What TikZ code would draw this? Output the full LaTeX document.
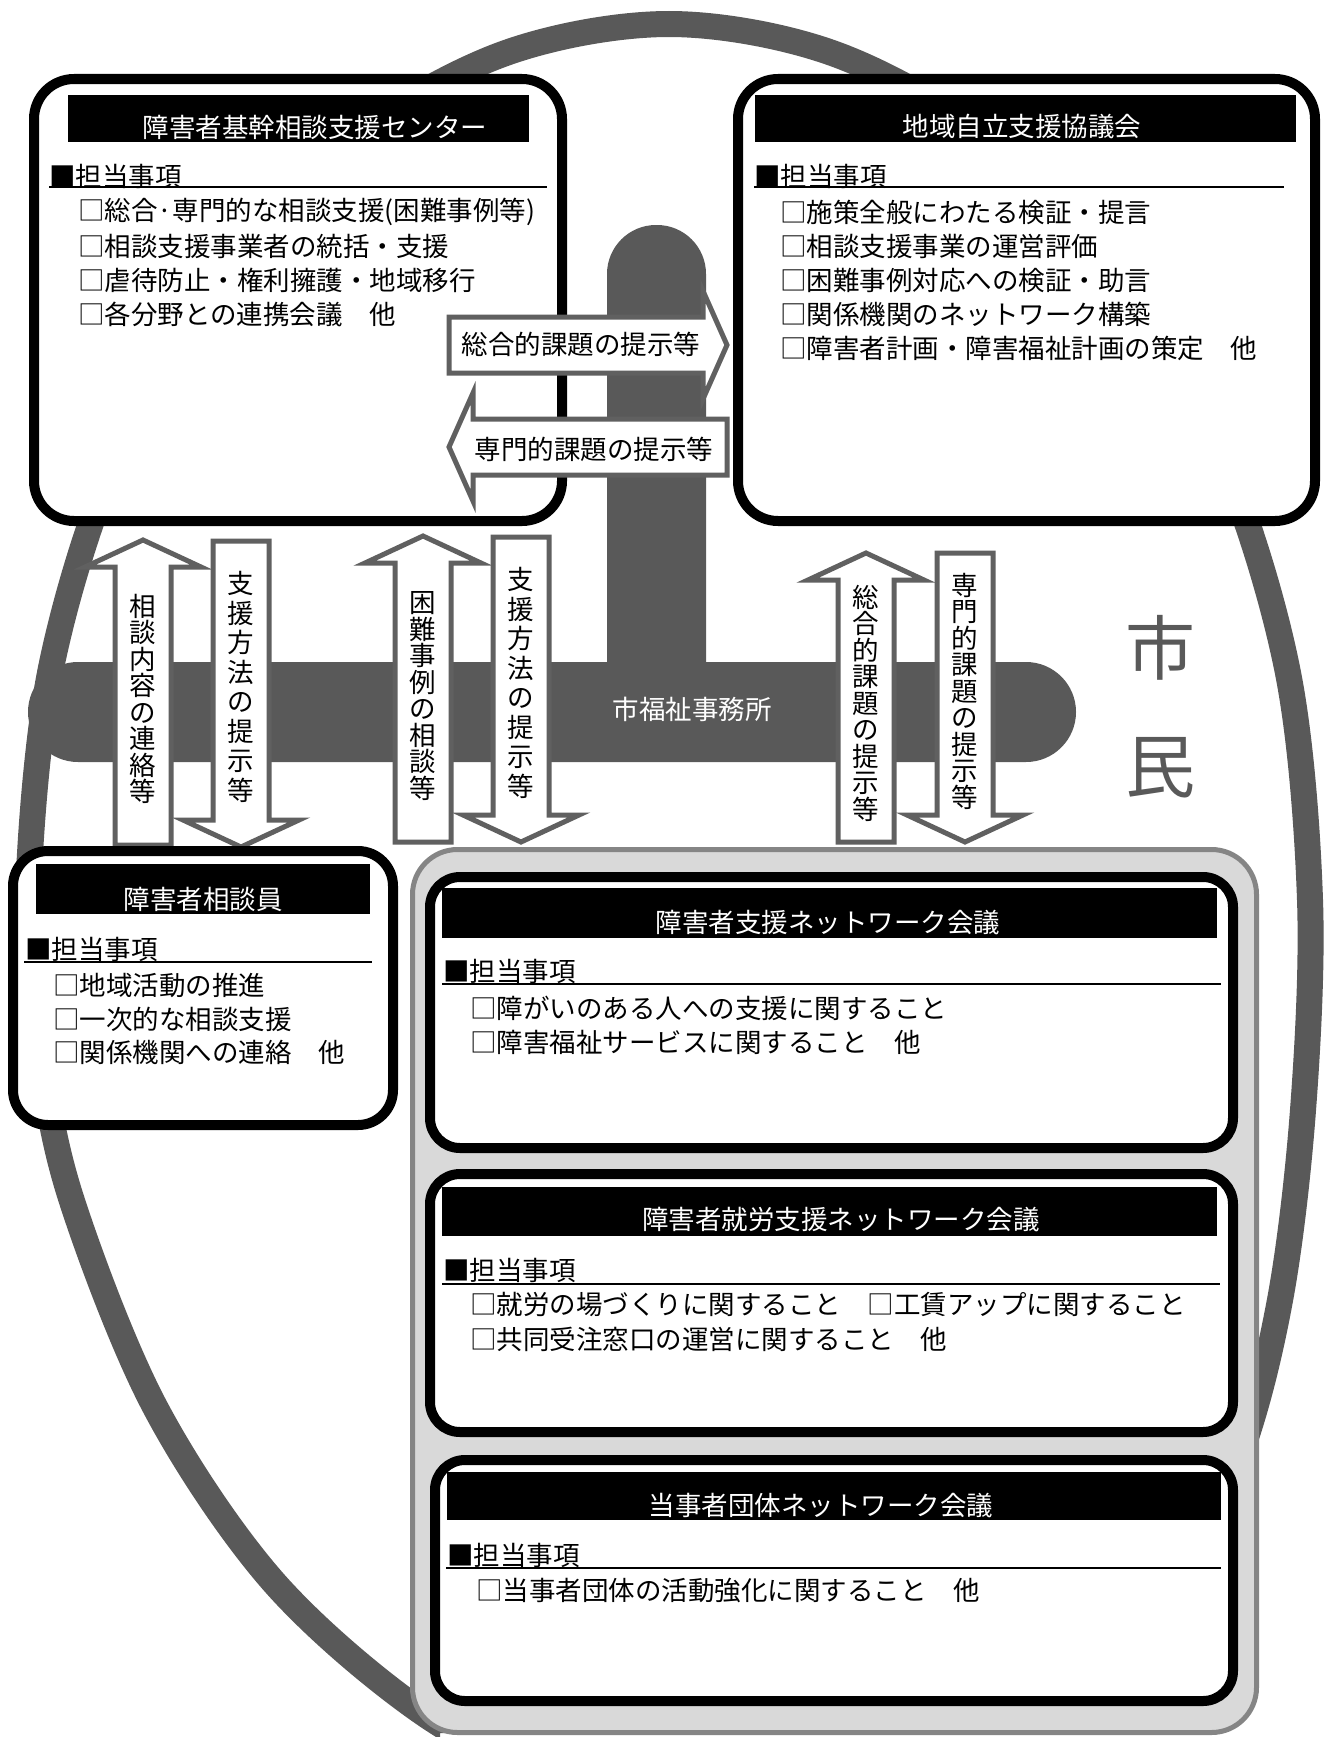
\documentclass[tikz,border=0pt]{standalone}
\usepackage{fontspec}
\setmainfont{Noto Sans CJK JP}
\definecolor{dgray}{HTML}{595959}
\definecolor{agray}{HTML}{606060}
\definecolor{lgray}{HTML}{D9D9D9}
\definecolor{mgray}{HTML}{858585}
\newcommand\fnA{\fontsize{26.5}{34}\selectfont}
\newcommand\fnV{\fontsize{26.5}{26.5}\selectfont}
\newcommand\fnW{\fontsize{26.5}{29.5}\selectfont}
\newcommand\fnBig{\fontsize{70}{80}\selectfont}
\newcommand\myup[3]{%
 \draw[arrowshape] ({#1-28},#3) -- ({#1-28},{#2+27}) -- ({#1-58},{#2+27}) -- (#1,#2) -- ({#1+58},{#2+27}) -- ({#1+28},{#2+27}) -- ({#1+28},#3) -- cycle;}
\newcommand\mydown[3]{%
 \draw[arrowshape] ({#1-28},#2) -- ({#1-28},{#3-27}) -- ({#1-58},{#3-27}) -- (#1,#3) -- ({#1+58},{#3-27}) -- ({#1+28},{#3-27}) -- ({#1+28},#2) -- cycle;}
\newcommand\myright[3]{%
 \draw[arrowshape] (#2,{#1-28}) -- ({#3-24},{#1-28}) -- ({#3-24},{#1-54}) -- (#3,#1) -- ({#3-24},{#1+54}) -- ({#3-24},{#1+28}) -- (#2,{#1+28}) -- cycle;}
\newcommand\myleft[3]{%
 \draw[arrowshape] (#3,{#1-28}) -- ({#2+24},{#1-28}) -- ({#2+24},{#1-54}) -- (#2,#1) -- ({#2+24},{#1+54}) -- ({#2+24},{#1+28}) -- (#3,{#1+28}) -- cycle;}
\tikzset{
  boxframe/.style={draw=black, fill=white, line width=10},
  hdrbar/.style={fill=black},
  hdrtxt/.style={text=white, font=\fnA, inner sep=0pt},
  bodytxt/.style={anchor=west, font=\fnA, inner sep=0pt},
  uline/.style={line width=2.5},
  arrowshape/.style={draw=agray, fill=white, line width=5, line join=miter},
  vtxt/.style={align=center, font=\fnV, inner sep=0pt},
  vtxtw/.style={align=center, font=\fnW, inner sep=0pt},
  arrtxt/.style={font=\fnA, inner sep=0pt},
}
\begin{document}
\begin{tikzpicture}[x=1pt,y=-1pt]
\useasboundingbox (0,0) rectangle (1331,1737);
\clip (0,0) rectangle (1331,1737);
\fill[white] (0,0) rectangle (1331,1737);
% big oval ring (egg-like, lower part leaning right)
\begin{scope}
\clip (0,0) -- (1331,0) -- (1331,1737) -- (1240,1737) -- (1240,1733) -- (440,1733) -- (440,1737) -- (0,1737) -- cycle;
\draw[dgray, line width=26] plot[smooth cycle, tension=0.55] coordinates {
 (669,24) (835,54) (990,141) (1122,281) (1224,462) (1288,673) (1310,900)
 (1303,1110) (1280,1300) (1238,1460) (1160,1620) (1040,1745) (880,1810)
 (700,1815) (560,1785) (416,1708) (271,1579) (154,1405) (71,1198) (40,1050)
 (28,900) (50,673) (114,462) (216,281) (349,141) (503,54)};
\end{scope}
% welfare office T-shape
\fill[dgray, rounded corners=50] (28,662) rectangle (1076,762);
\fill[dgray, rounded corners=49] (607,712) -- (607,225) -- (706,225) -- (706,712) -- cycle;
\node[text=white, font=\fnA, inner sep=0pt] (office) at (692,709) {市福祉事務所};
% citizens
\node[text=dgray, font=\fnBig, inner sep=0pt] (shi) at (1160,648) {市};
\node[text=dgray, font=\fnBig, inner sep=0pt] (min) at (1160,768) {民};
% Box A
\draw[boxframe, rounded corners=40] (34,79) rectangle (562,521);
\fill[hdrbar] (68,95) rectangle (529,142);
\node[hdrtxt] (hA) at (315,127) {障害者基幹相談支援センター};
\node[bodytxt] (tA0) at (49,176) {■担当事項};
\draw[uline] (49,187) -- (547,187);
\node[bodytxt] (tA1) at (78,212) {□総合·専門的な相談支援(困難事例等)};
\node[bodytxt] (tA2) at (78,246) {□相談支援事業者の統括・支援};
\node[bodytxt] (tA3) at (78,280) {□虐待防止・権利擁護・地域移行};
\node[bodytxt] (tA4) at (78,314) {□各分野との連携会議　他};
% Box B
\draw[boxframe, rounded corners=40] (738,79) rectangle (1315,521);
\fill[hdrbar] (755,95) rectangle (1296,142);
\node[hdrtxt] (hB) at (1022,127) {地域自立支援協議会};
\node[bodytxt] (tB0) at (754,176) {■担当事項};
\draw[uline] (754,187) -- (1284,187);
\node[bodytxt] (tB1) at (780,212) {□施策全般にわたる検証・提言};
\node[bodytxt] (tB2) at (780,246) {□相談支援事業の運営評価};
\node[bodytxt] (tB3) at (780,280) {□困難事例対応への検証・助言};
\node[bodytxt] (tB4) at (780,314) {□関係機関のネットワーク構築};
\node[bodytxt] (tB5) at (780,348) {□障害者計画・障害福祉計画の策定　他};
% horizontal arrows
\myright{345}{449}{727}
\node[arrtxt] (hr) at (581,344) {総合的課題の提示等};
\myleft{447}{449}{727}
\node[arrtxt] (hl) at (594,449) {専門的課題の提示等};
% vertical arrows
\myup{143}{540}{845}
\node[vtxt] (va) at (143,699) {相\\談\\内\\容\\の\\連\\絡\\等};
\mydown{241}{541}{847}
\node[vtxtw] (vb) at (241,687) {支\\援\\方\\法\\の\\提\\示\\等};
\myup{423}{536}{842}
\node[vtxt] (vc) at (423,696) {困\\難\\事\\例\\の\\相\\談\\等};
\mydown{521}{537}{842}
\node[vtxtw] (vd) at (521,683) {支\\援\\方\\法\\の\\提\\示\\等};
\myup{866}{553}{842}
\node[vtxt] (ve) at (866,703) {総\\合\\的\\課\\題\\の\\提\\示\\等};
\mydown{965}{553}{842}
\node[vtxt] (vf) at (965,691) {専\\門\\的\\課\\題\\の\\提\\示\\等};
% Box C
\draw[boxframe, rounded corners=35] (13,851) rectangle (393,1125);
\fill[hdrbar] (36,864) rectangle (370,914);
\node[hdrtxt] (hC) at (203,899) {障害者相談員};
\node[bodytxt] (tC0) at (25,949) {■担当事項};
\draw[uline] (24,962) -- (372,962);
\node[bodytxt] (tC1) at (53,985) {□地域活動の推進};
\node[bodytxt] (tC2) at (53,1019) {□一次的な相談支援};
\node[bodytxt] (tC3) at (53,1052) {□関係機関への連絡　他};
% container
\draw[draw=mgray, fill=lgray, line width=5, rounded corners=45] (412.5,849.5) rectangle (1256.5,1732.5);
% Box D
\draw[boxframe, rounded corners=30] (430,877) rectangle (1233,1148);
\fill[hdrbar] (442,888) rectangle (1217,938);
\node[hdrtxt] (hD) at (828,922) {障害者支援ネットワーク会議};
\node[bodytxt] (tD0) at (443,971) {■担当事項};
\draw[uline] (442,984) -- (1221,984);
\node[bodytxt] (tD1) at (470,1008) {□障がいのある人への支援に関すること};
\node[bodytxt] (tD2) at (470,1042) {□障害福祉サービスに関すること　他};
% Box E
\draw[boxframe, rounded corners=30] (430,1174) rectangle (1233,1432);
\fill[hdrbar] (442,1187) rectangle (1217,1236);
\node[hdrtxt] (hE) at (841,1219) {障害者就労支援ネットワーク会議};
\node[bodytxt] (tE0) at (443,1270) {■担当事項};
\draw[uline] (442,1284) -- (1220,1284);
\node[bodytxt] (tE1) at (470,1304) {□就労の場づくりに関すること　□工賃アップに関すること};
\node[bodytxt] (tE2) at (470,1339) {□共同受注窓口の運営に関すること　他};
% Box F
\draw[boxframe, rounded corners=30] (435,1460) rectangle (1233,1701);
\fill[hdrbar] (447,1472) rectangle (1221,1520);
\node[hdrtxt] (hF) at (821,1505) {当事者団体ネットワーク会議};
\node[bodytxt] (tF0) at (447,1555) {■担当事項};
\draw[uline] (446,1568) -- (1221,1568);
\node[bodytxt] (tF1) at (476,1590) {□当事者団体の活動強化に関すること　他};
\end{tikzpicture}
\end{document}
